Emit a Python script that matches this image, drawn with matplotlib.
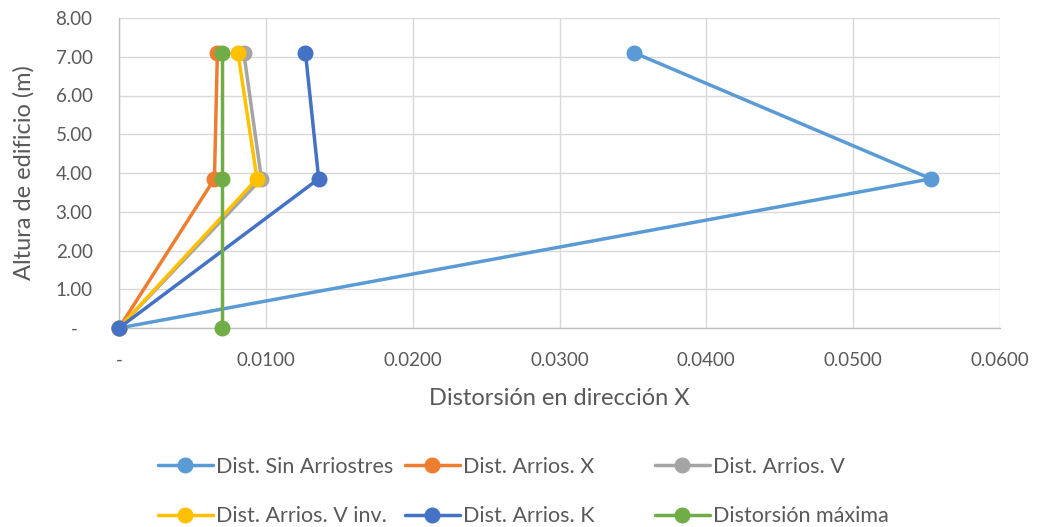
import matplotlib
matplotlib.use("Agg")
import matplotlib.pyplot as plt
from matplotlib.ticker import FixedLocator, FuncFormatter

plt.rcParams['font.family'] = ['Lato', 'DejaVu Sans']

# Storey heights (m)
alturas = [0.0, 3.85, 7.10]

# Drift in X direction for each bracing configuration
dist_sin_arriostres = [0.0, 0.0553, 0.0351]
dist_arrios_x = [0.0, 0.0065, 0.0067]
dist_arrios_v = [0.0, 0.0097, 0.0085]
dist_arrios_v_inv = [0.0, 0.0094, 0.0081]
dist_arrios_k = [0.0, 0.0136, 0.0127]
distorsion_maxima = [0.0070, 0.0070, 0.0070]

series_labels = ["Dist. Sin Arriostres", "Dist. Arrios. X", "Dist. Arrios. V",
                 "Dist. Arrios. V inv.", "Dist. Arrios. K", "Distorsión máxima"]
series_colors = ["#5B9BD5", "#ED7D31", "#A5A5A5", "#FFC000", "#4472C4", "#70AD47"]
series_values = [dist_sin_arriostres, dist_arrios_x, dist_arrios_v,
                 dist_arrios_v_inv, dist_arrios_k, distorsion_maxima]

x_ticks = [0.0, 0.01, 0.02, 0.03, 0.04, 0.05, 0.06]
y_ticks = [0, 1, 2, 3, 4, 5, 6, 7, 8]

text_color = "#595959"

fig = plt.figure(figsize=(10.4, 5.27), dpi=100)
ax = fig.add_axes([119 / 1040, 1 - 328 / 527, (1000 - 119) / 1040, (328 - 18) / 527])

handles = []
for vals, lab, col in zip(series_values, series_labels, series_colors):
    h, = ax.plot(vals, alturas, color=col, lw=2.5, marker='o', markersize=10.5,
                 label=lab, solid_capstyle='round', clip_on=False, zorder=3)
    handles.append(h)

ax.set_xlim(0, 0.06)
ax.set_ylim(0, 8)
ax.xaxis.set_major_locator(FixedLocator(x_ticks))
ax.yaxis.set_major_locator(FixedLocator(y_ticks))
ax.xaxis.set_major_formatter(FuncFormatter(lambda v, p: "-" if abs(v) < 1e-12 else f"{v:.4f}"))
ax.yaxis.set_major_formatter(FuncFormatter(lambda v, p: "-   " if abs(v) < 1e-12 else f"{v:.2f}"))

ax.grid(True, color="#D9D9D9", lw=1.0, zorder=0)
ax.set_axisbelow(True)
for s in ["top", "right"]:
    ax.spines[s].set_visible(False)
for s in ["left", "bottom"]:
    ax.spines[s].set_color("#BFBFBF")
    ax.spines[s].set_linewidth(1.0)
ax.tick_params(length=0, labelsize=13.5, labelcolor=text_color)
ax.tick_params(axis='y', pad=19)
ax.tick_params(axis='x', pad=17)

ax.set_xlabel("Distorsión en dirección X", fontsize=17, color=text_color, labelpad=14)
ax.set_ylabel("Altura de edificio (m)", fontsize=17, color=text_color, labelpad=15)

# Legend: three equally spaced columns, two rows
col_x = [158, 405, 655]
for i, cx in enumerate(col_x):
    leg = fig.legend([handles[i], handles[i + 3]], [series_labels[i], series_labels[i + 3]],
                     loc='upper left', bbox_to_anchor=(cx / 1040, 1 - 457 / 527),
                     frameon=False, fontsize=15.5, handlelength=2.55, handletextpad=0.15,
                     labelspacing=1.37, borderaxespad=0, borderpad=0)
    for t in leg.get_texts():
        t.set_color(text_color)

fig.savefig("out.png", dpi=100)
